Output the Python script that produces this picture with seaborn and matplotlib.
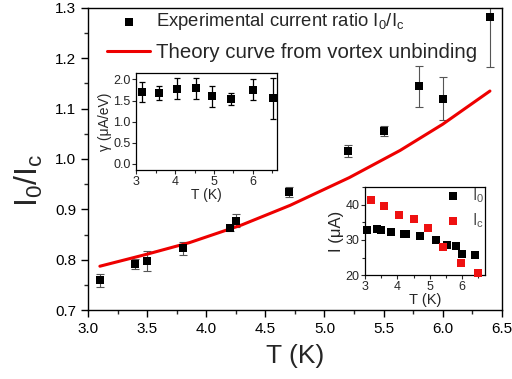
import numpy as np
import pandas as pd
import matplotlib
matplotlib.use("Agg")
import matplotlib.pyplot as plt
from matplotlib.ticker import MultipleLocator
import seaborn as sns

# ---- data ----
T_exp = [3.10, 3.40, 3.50, 3.80, 4.20, 4.25, 4.70, 5.20, 5.50, 5.80, 6.00, 6.40]
ratio = [0.759, 0.792, 0.797, 0.823, 0.863, 0.877, 0.935, 1.016, 1.055, 1.144, 1.120, 1.282]
ratio_err = [0.013, 0.010, 0.020, 0.013, 0.006, 0.013, 0.010, 0.012, 0.010, 0.040, 0.043, 0.100]

T_theory = [3.10, 3.50, 3.86, 4.30, 4.71, 5.21, 5.64, 6.00, 6.40]
theory = [0.787, 0.811, 0.834, 0.869, 0.908, 0.963, 1.017, 1.069, 1.135]

T_gamma = [3.16, 3.59, 4.04, 4.53, 4.96, 5.44, 6.00, 6.53]
gamma = [1.70, 1.68, 1.78, 1.79, 1.60, 1.54, 1.76, 1.55]
gamma_err = [0.23, 0.17, 0.25, 0.25, 0.25, 0.15, 0.25, 0.48]

T_I0 = [3.07, 3.38, 3.50, 3.81, 4.20, 4.25, 4.71, 5.20, 5.52, 5.81, 6.00, 6.39]
I0 = [32.9, 33.0, 32.9, 32.3, 31.6, 31.8, 31.1, 30.1, 28.7, 28.4, 26.0, 25.6]
T_Ic = [3.17, 3.59, 4.05, 4.51, 4.94, 5.42, 5.97, 6.50]
Ic = [41.5, 39.8, 37.1, 35.9, 33.4, 28.0, 23.4, 20.5]

# ---- style ----
sns.set_theme(style="ticks")
plt.rcParams['font.family'] = ['Liberation Sans', 'DejaVu Sans']
plt.rcParams['mathtext.fontset'] = 'custom'
plt.rcParams['mathtext.rm'] = 'Liberation Sans'
plt.rcParams['mathtext.it'] = 'Liberation Sans:italic'
plt.rcParams['xtick.direction'] = 'out'
plt.rcParams['ytick.direction'] = 'out'

fig = plt.figure(figsize=(5.12, 3.79), dpi=100)
ax = fig.add_axes([0.172, 0.182, 0.808, 0.797])

df_exp = pd.DataFrame({"T": T_exp, "r": ratio})
df_th = pd.DataFrame({"T": T_theory, "r": theory})

ax.errorbar(T_exp, ratio, yerr=ratio_err, fmt='none', ecolor='#555555',
            elinewidth=0.8, capsize=3, capthick=0.8, zorder=2)
sns.scatterplot(data=df_exp, x="T", y="r", marker='s', color='black', s=38,
                edgecolor='black', linewidth=0, ax=ax, zorder=3,
                label=r"Experimental current ratio I$_0$/I$_\mathrm{c}$")
sns.lineplot(data=df_th, x="T", y="r", color='#ee0000', linewidth=2.2, ax=ax,
             label="Theory curve from vortex unbinding", zorder=2)

ax.set_xlim(3.0, 6.5)
ax.set_ylim(0.7, 1.3)
ax.xaxis.set_major_locator(MultipleLocator(0.5))
ax.xaxis.set_minor_locator(MultipleLocator(0.25))
ax.yaxis.set_major_locator(MultipleLocator(0.1))
ax.yaxis.set_minor_locator(MultipleLocator(0.05))
ax.xaxis.set_major_formatter(matplotlib.ticker.FormatStrFormatter('%.1f'))
ax.yaxis.set_major_formatter(matplotlib.ticker.FormatStrFormatter('%.1f'))
ax.tick_params(which='major', length=5, width=1, labelsize=11, colors='black')
ax.tick_params(which='minor', length=3, width=1)
ax.set_xlabel("T (K)", fontsize=19, labelpad=6)
ax.set_ylabel(r"I$_0$/I$_\mathrm{c}$", fontsize=23)
ax.yaxis.set_label_coords(-0.105, 0.43)
for s in ax.spines.values():
    s.set_linewidth(1.0)
    s.set_color('black')

leg = ax.legend(loc='upper left', bbox_to_anchor=(0.02, 1.025), frameon=False,
                fontsize=13.3, handlelength=2.3, handletextpad=0.35,
                labelspacing=0.55, borderaxespad=0.2)
leg.get_texts()[1].set_fontsize(14.7)

# ---- inset 1: gamma ----
ax1 = fig.add_axes([0.266, 0.551, 0.275, 0.256])
df_g = pd.DataFrame({"T": T_gamma, "g": gamma})
ax1.errorbar(T_gamma, gamma, yerr=gamma_err, fmt='none', ecolor='black',
             elinewidth=0.9, capsize=2, capthick=0.9, zorder=2)
sns.scatterplot(data=df_g, x="T", y="g", marker='s', color='black', s=30,
                linewidth=0, ax=ax1, zorder=3, legend=False)
ax1.set_xlim(3.0, 6.62)
ax1.set_ylim(-0.15, 2.15)
ax1.xaxis.set_major_locator(MultipleLocator(1))
ax1.xaxis.set_minor_locator(MultipleLocator(0.5))
ax1.yaxis.set_major_locator(MultipleLocator(0.5))
ax1.yaxis.set_major_formatter(matplotlib.ticker.FormatStrFormatter('%.1f'))
ax1.tick_params(which='major', length=3, width=0.8, labelsize=9, pad=1)
ax1.tick_params(which='minor', length=2, width=0.8)
ax1.set_xlabel("T (K)", fontsize=10, labelpad=0)
ax1.set_ylabel("γ (μA/eV)", fontsize=10, labelpad=1)
for s in ax1.spines.values():
    s.set_linewidth(0.9)
    s.set_color('black')

# ---- inset 2: currents ----
ax2 = fig.add_axes([0.713, 0.274, 0.234, 0.232])
df_i0 = pd.DataFrame({"T": T_I0, "I": I0})
df_ic = pd.DataFrame({"T": T_Ic, "I": Ic})
sns.scatterplot(data=df_i0, x="T", y="I", marker='s', color='black', s=30,
                linewidth=0, ax=ax2, label="I$_0$", zorder=3, clip_on=False)
sns.scatterplot(data=df_ic, x="T", y="I", marker='s', color='#ee1111', s=30,
                linewidth=0, ax=ax2, label=r"I$_\mathrm{c}$", zorder=3, clip_on=False)
ax2.set_xlim(3.0, 6.7)
ax2.set_ylim(20, 45)
ax2.xaxis.set_major_locator(MultipleLocator(1))
ax2.xaxis.set_minor_locator(MultipleLocator(0.5))
ax2.yaxis.set_major_locator(MultipleLocator(10))
ax2.yaxis.set_minor_locator(MultipleLocator(5))
ax2.tick_params(which='major', length=3, width=0.8, labelsize=9, pad=1)
ax2.tick_params(which='minor', length=2, width=0.8)
ax2.set_xlabel("T (K)", fontsize=10.5, labelpad=0)
ax2.set_ylabel("I (μA)", fontsize=12, labelpad=1)
for s in ax2.spines.values():
    s.set_linewidth(0.9)
    s.set_color('black')
leg2 = ax2.legend(loc='upper right', bbox_to_anchor=(1.06, 1.1), frameon=False,
                  fontsize=11.5, handletextpad=0.7, labelspacing=0.4,
                  borderaxespad=0.1, handlelength=1.0)
for t in leg2.get_texts():
    t.set_color('#555555')

fig.savefig("out.png", dpi=100)
